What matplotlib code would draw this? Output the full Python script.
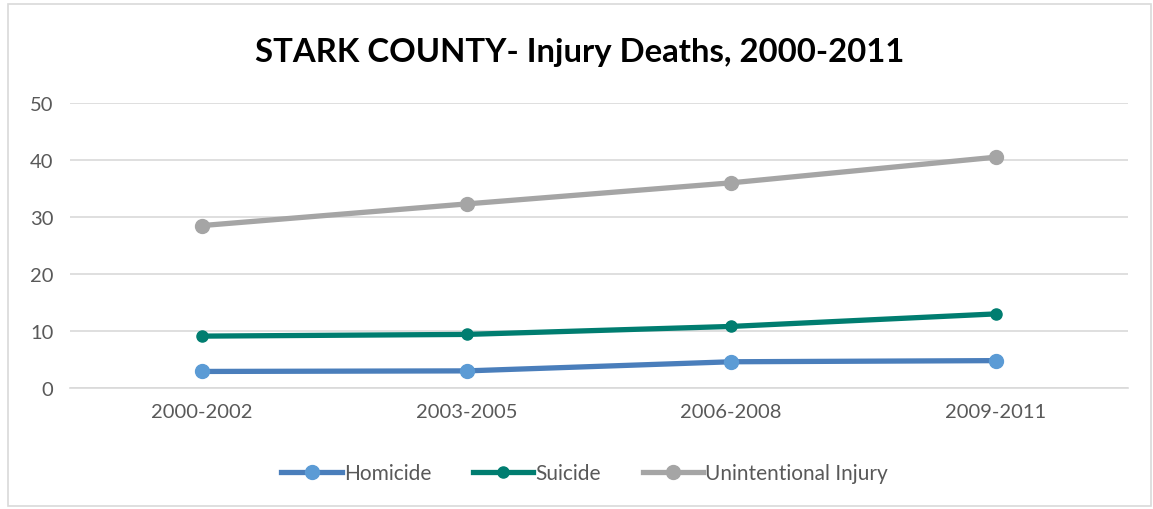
import matplotlib
matplotlib.use('Agg')
import matplotlib.pyplot as plt
from matplotlib.patches import Rectangle

# data
periods = ['2000-2002', '2003-2005', '2006-2008', '2009-2011']
homicide = [2.9, 3.0, 4.6, 4.8]
suicide = [9.1, 9.4, 10.8, 13.0]
unintentional = [28.5, 32.3, 36.0, 40.5]

plt.rcParams['font.family'] = ['Lato', 'DejaVu Sans']

fig = plt.figure(figsize=(11.53, 5.10), dpi=100)
ax = fig.add_axes([0.0607, 0.2373, 0.9176, 0.5587])

x = range(len(periods))
ax.plot(x, homicide, color='#4a7ebb', lw=3.8, marker='o', markersize=10,
        markerfacecolor='#5b9bd5', markeredgecolor='#5b9bd5', label='Homicide')
ax.plot(x, suicide, color='#007d70', lw=3.8, marker='o', markersize=8,
        markerfacecolor='#007d70', markeredgecolor='#007d70', label='Suicide')
ax.plot(x, unintentional, color='#a5a5a5', lw=3.8, marker='o', markersize=10,
        markerfacecolor='#a5a5a5', markeredgecolor='#a5a5a5', label='Unintentional Injury')

ax.set_xlim(-0.5, 3.5)
ax.set_ylim(0, 50)
ax.set_yticks([0, 10, 20, 30, 40, 50])
ax.set_xticks(list(x))
ax.set_xticklabels(periods)
ax.grid(axis='y', color='#d9d9d9', lw=1.2)
ax.set_axisbelow(True)
for s in ['top', 'right', 'left']:
    ax.spines[s].set_visible(False)
ax.spines['bottom'].set_color('#d9d9d9')
ax.spines['bottom'].set_linewidth(1.2)
ax.tick_params(axis='both', length=0, labelsize=14.5, colors='#595959', pad=11)
ax.tick_params(axis='y', pad=12)

fig.suptitle('STARK COUNTY- Injury Deaths, 2000-2011', x=0.503, y=0.925,
             fontsize=23.7, fontweight='bold', color='black')

fig.legend(loc='center', bbox_to_anchor=(0.507, 0.07), ncol=3, frameon=False,
           fontsize=15, labelcolor='#595959', handlelength=2.9,
           handletextpad=0.1, columnspacing=2.0)

# light chart border
fig.patches.append(Rectangle((0.007, 0.006), 0.991, 0.985, transform=fig.transFigure,
                             fill=False, edgecolor='#d9d9d9', lw=1.2))

fig.savefig('out.png', dpi=100)
